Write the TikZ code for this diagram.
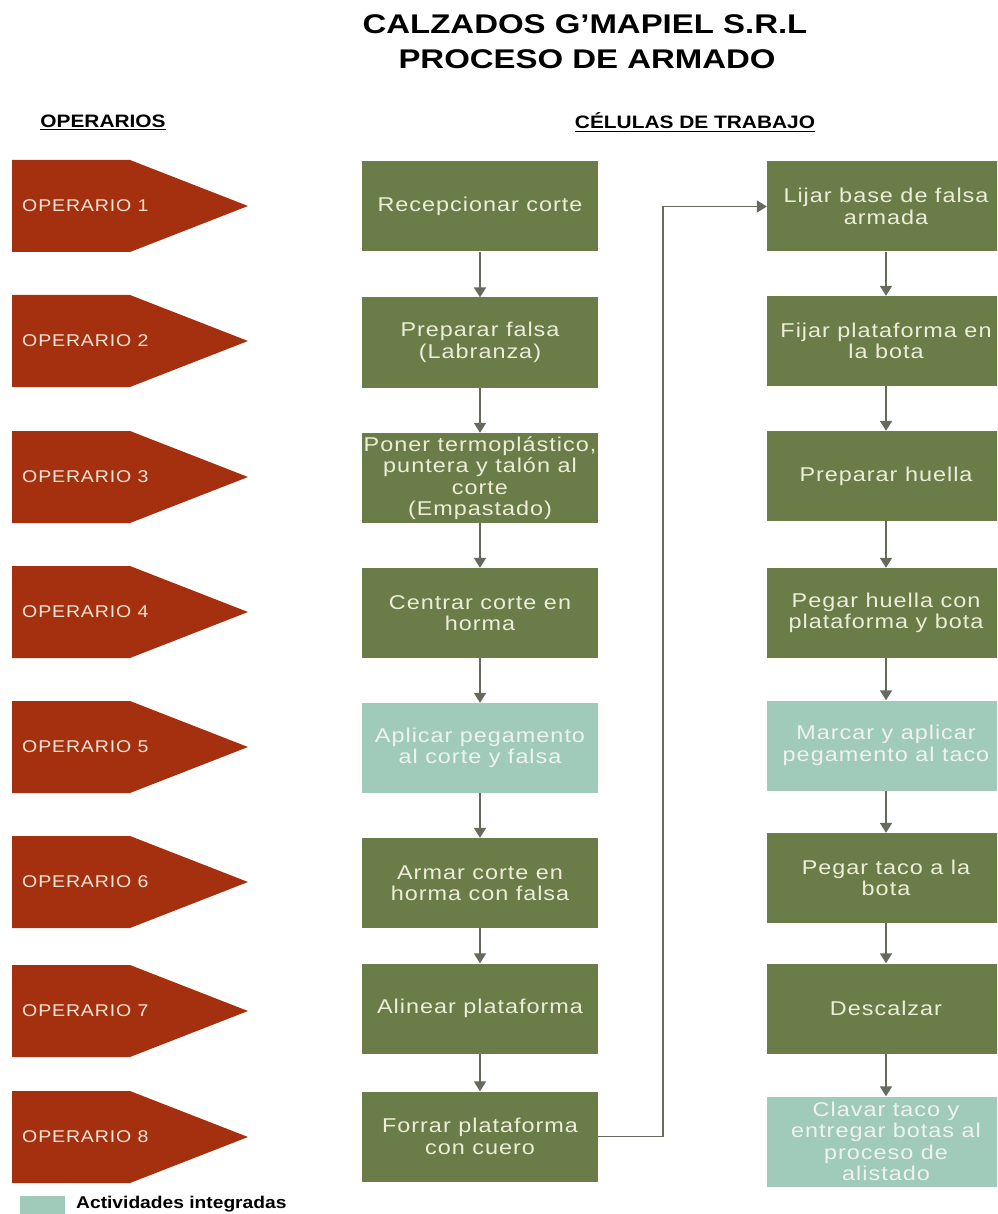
\documentclass[tikz,border=0pt]{standalone}
\usepackage{fontspec}
\setmainfont{Liberation Sans}
\newfontfamily\titlef[FakeStretch=1.22]{Liberation Sans}
\newfontfamily\headf[FakeStretch=1.16]{Liberation Sans}
\newfontfamily\boxf[FakeStretch=1.17,LetterSpace=5]{Liberation Sans}
\newfontfamily\opf[FakeStretch=1.15,LetterSpace=5]{Liberation Sans}
\newfontfamily\legf[FakeStretch=1.13]{Liberation Sans}
\usetikzlibrary{arrows.meta}
\definecolor{boxgreen}{HTML}{6A7C48}
\definecolor{opred}{HTML}{A5300F}
\definecolor{tealbox}{HTML}{A0CBBB}
\definecolor{linecol}{HTML}{646A5C}
\definecolor{boxtxt}{HTML}{EDEDD9}
\definecolor{tealtxt}{HTML}{EEF3EC}
\definecolor{optxt}{HTML}{F4E4D4}
\tikzset{
  cellbox/.style={rectangle, fill=boxgreen, minimum width=236pt, minimum height=90pt,
    inner sep=1pt, align=center, text=boxtxt, font=\boxf\fontsize{20}{21.5}\selectfont},
  cellint/.style={cellbox, fill=tealbox, text=tealtxt},
  oplabel/.style={anchor=west, inner sep=0pt, text=optxt, font=\opf\fontsize{17}{20}\selectfont},
  optag/.style={fill=opred},
  conn/.style={draw=linecol, line width=1.8pt, -{Triangle[width=12pt,length=10pt]}},
  headtxt/.style={inner sep=0pt, font=\headf\bfseries\fontsize{18}{21}\selectfont},
  titletxt/.style={inner sep=0pt, font=\titlef\bfseries\fontsize{27}{30}\selectfont}
}
\begin{document}
\begin{tikzpicture}[x=1pt,y=-1pt]
\useasboundingbox (0,0) rectangle (997,1214);
\fill[white] (0,0) rectangle (997,1214);
\clip (0,0) rectangle (997,1214);

% title
\node[titletxt] (t1) at (585,24) {CALZADOS G’MAPIEL S.R.L};
\node[titletxt] (t2) at (587,59) {PROCESO DE ARMADO};

% headers
\node[headtxt] (h1) at (103,121) {OPERARIOS};
\node[headtxt] (h2) at (695,121) {CÉLULAS DE TRABAJO};
\draw[line width=1.3pt] ([yshift=-2.5pt]h1.base west) -- ([yshift=-2.5pt]h1.base east);
\draw[line width=1.3pt] ([yshift=-2.5pt]h2.base west) -- ([yshift=-2.5pt]h2.base east);

% operarios
\foreach \i/\yc in {1/206, 2/341, 3/477, 4/612, 5/747, 6/882, 7/1011, 8/1137}{
  \fill[optag] (12,\yc-46) -- (130,\yc-46) -- (248,\yc) -- (130,\yc+46) -- (12,\yc+46) -- cycle;
  \node[oplabel] (op\i) at (22,\yc) {OPERARIO \i};
}

% left column
\node[cellbox] (a1) at (480,206.5) {Recepcionar corte};
\node[cellbox] (a2) at (480,342.5) {Preparar falsa\\(Labranza)};
\node[cellbox] (a3) at (480,478) {Poner termoplástico,\\puntera y talón al\\corte\\(Empastado)};
\node[cellbox] (a4) at (480,613) {Centrar corte en\\horma};
\node[cellint] (a5) at (480,748) {Aplicar pegamento\\al corte y falsa};
\node[cellbox] (a6) at (480,883) {Armar corte en\\horma con falsa};
\node[cellbox] (a7) at (480,1008.5) {Alinear plataforma};
\node[cellbox] (a8) at (480,1136.5) {Forrar plataforma\\con cuero};

% right column
\node[cellbox, minimum width=238pt] (b1) at (886,206.5) {Lijar base de falsa\\armada};
\node[cellbox, minimum width=238pt] (b2) at (886,341) {Fijar plataforma en\\la bota};
\node[cellbox, minimum width=238pt] (b3) at (886,476) {Preparar huella};
\node[cellbox, minimum width=238pt] (b4) at (886,613) {Pegar huella con\\plataforma y bota};
\node[cellint, minimum width=238pt] (b5) at (886,745.5) {Marcar y aplicar\\pegamento al taco};
\node[cellbox, minimum width=238pt] (b6) at (886,878) {Pegar taco a la\\bota};
\node[cellbox, minimum width=238pt] (b7) at (886,1008.5) {Descalzar};
\node[cellint, minimum width=238pt] (b8) at (886,1141.5) {Clavar taco y\\entregar botas al\\proceso de\\alistado};

% connectors
\foreach \p/\n in {1/2,2/3,3/4,4/5,5/6,6/7,7/8}{
  \draw[conn] (a\p) -- (a\n);
  \draw[conn] (b\p) -- (b\n);
}
\coordinate (bend) at (663,0);
\draw[conn] (a8.east) -- (a8.east -| bend) |- (b1.west);

% legend
\fill[tealbox] (20,1196) rectangle (65,1220);
\node[anchor=west, inner sep=0pt, font=\legf\bfseries\fontsize{17}{19}\selectfont] (leg) at (76,1204) {Actividades integradas};
\end{tikzpicture}
\end{document}
